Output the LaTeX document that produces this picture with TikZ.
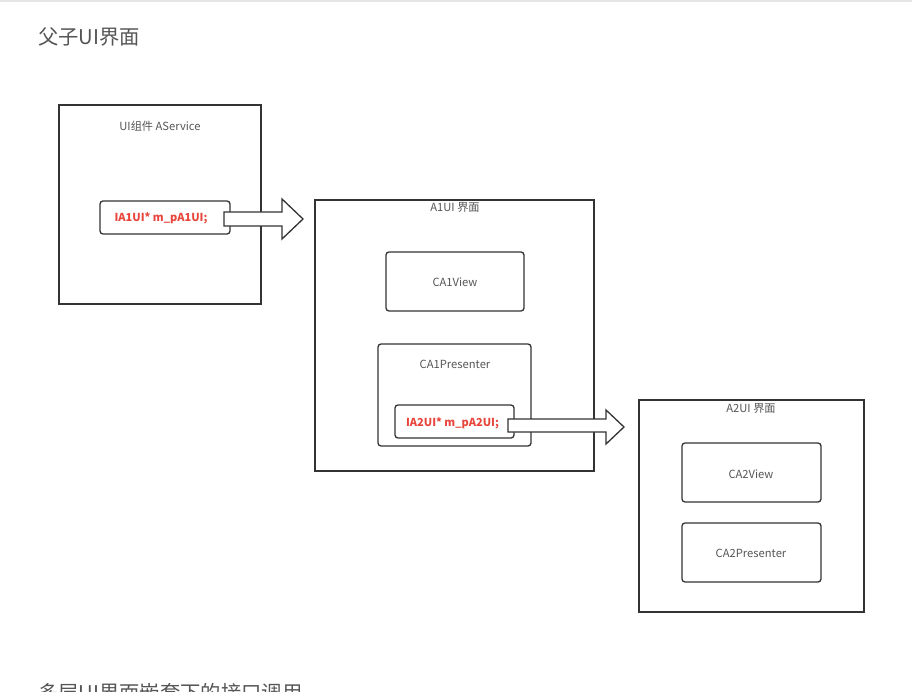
\documentclass[tikz,border=0pt]{standalone}
\usepackage{fontspec}
\usetikzlibrary{calc}
\setmainfont{Noto Sans CJK SC}
\definecolor{edge}{HTML}{333333}
\definecolor{txt}{HTML}{555555}
\definecolor{redtxt}{HTML}{E8453C}
\definecolor{rule}{HTML}{E6E6E6}
\tikzset{
  frame/.style={draw=edge, line width=1.3pt, inner sep=0pt, outer sep=0pt},
  rbox/.style={frame, rounded corners=3pt},
  lbl/.style={text=txt, inner sep=0pt, font=\fontsize{11.2}{13}\selectfont},
  code/.style={text=redtxt, inner sep=0pt, font=\fontsize{11}{13}\selectfont\bfseries},
  heading/.style={text=txt, inner sep=0pt, anchor=west, font=\fontsize{20.3}{23}\selectfont},
  fatarrow/.style={draw=edge, fill=white, line width=1.3pt, line join=miter},
}
\begin{document}
\begin{tikzpicture}[x=1pt,y=-1pt]
\useasboundingbox (0,0) rectangle (912,692);
\clip (0,0) rectangle (912,692);
\fill[white] (0,0) rectangle (912,692);
\draw[rule, line width=2pt] (0,1) -- (912,1);

\node[heading] (title) at (38,37) {父子UI界面};
\node[heading] (title2) at (38,693) {多层UI界面嵌套下的接口调用};

% AService
\node[frame, minimum width=202pt, minimum height=199pt] (svc) at (160,204.5) {};
\node[lbl] (svclbl) at (160,126) {UI组件 AService};
\node[rbox, minimum width=130pt, minimum height=33pt] (r1) at (165,217.5) {};
\node[code] (r1t) at (161,218) {IA1UI* m\_pA1UI;};

% A1UI
\node[frame, minimum width=279pt, minimum height=271pt] (a1) at (454.5,335.5) {};
\node[lbl] (a1lbl) at (455,207) {A1UI 界面};
\node[rbox, minimum width=138pt, minimum height=59pt] (v1) at (455,281.5) {};
\node[lbl] (v1t) at (455,282) {CA1View};
\node[rbox, minimum width=153pt, minimum height=102pt] (p1) at (454.5,395) {};
\node[lbl] (p1t) at (455,364) {CA1Presenter};
\node[rbox, minimum width=119pt, minimum height=33pt] (r2) at (454.5,421.5) {};
\node[code] (r2t) at (452.5,423) {IA2UI* m\_pA2UI;};

% A2UI
\node[frame, minimum width=225pt, minimum height=212pt] (a2) at (751.5,506) {};
\node[lbl] (a2lbl) at (751,408) {A2UI 界面};
\node[rbox, minimum width=139pt, minimum height=59pt] (v2) at (751.5,472.5) {};
\node[lbl] (v2t) at (751,474) {CA2View};
\node[rbox, minimum width=139pt, minimum height=59pt] (p2) at (751.5,552.5) {};
\node[lbl] (p2t) at (751,553) {CA2Presenter};

% fat arrows
\draw[fatarrow] ($(r1.east)+(-6,-5.5)$) -- (282,212) -- (282,199) -- (303,219) -- (282,239) -- (282,226) -- ($(r1.east)+(-6,8.5)$) -- cycle;
\draw[fatarrow] ($(r2.east)+(-6,-2.5)$) -- (606,419) -- (606,410) -- (624,427) -- (606,444) -- (606,432) -- ($(r2.east)+(-6,10.5)$) -- cycle;
\end{tikzpicture}
\end{document}
